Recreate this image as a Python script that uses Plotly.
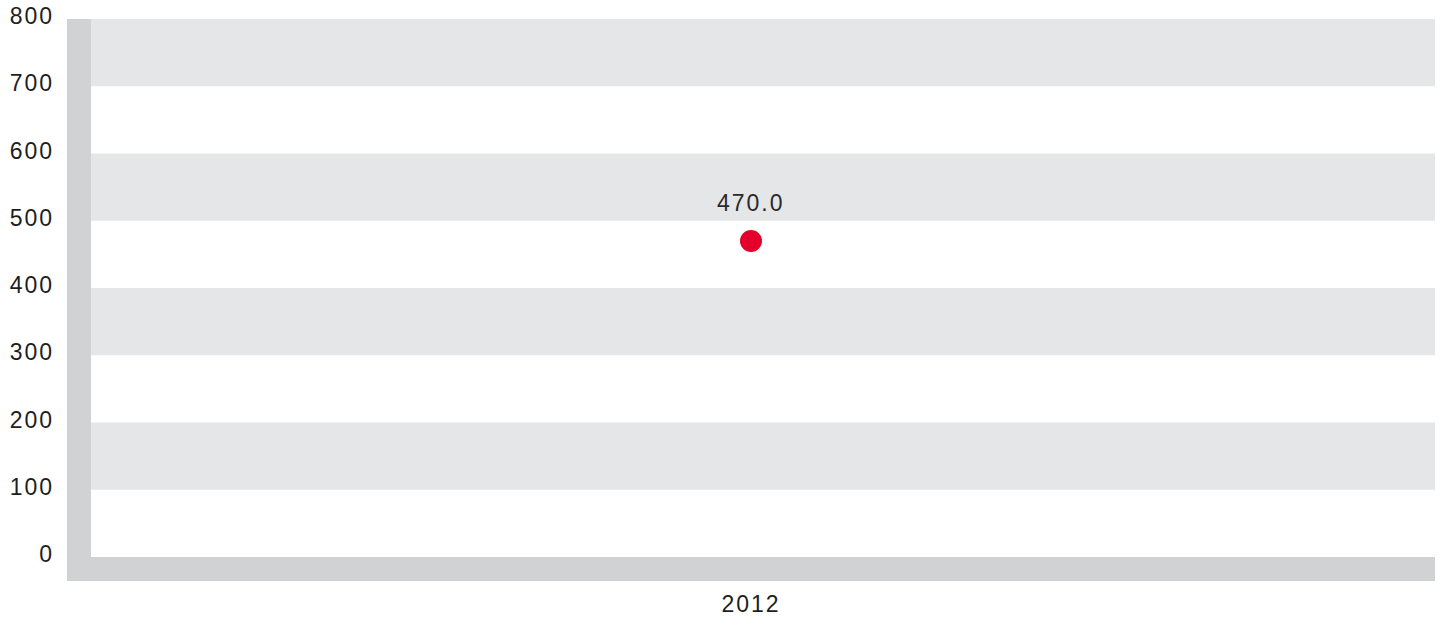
import plotly.graph_objects as go

# data
years = ["2012"]
values = [470.0]
y_ticks = [0, 100, 200, 300, 400, 500, 600, 700, 800]

BAND = "#e5e6e8"
AXIS_BAR = "#d1d2d4"
POINT = "#e4002b"
FONT = "Liberation Sans"

fig = go.Figure(
    go.Scatter(
        x=years,
        y=values,
        mode="markers",
        marker=dict(size=22, color=POINT),
        hoverinfo="x+y",
        cliponaxis=False,
    )
)

# alternating bands: shaded between every other pair of ticks (from the top)
shapes = []
for lo, hi in zip(y_ticks[:-1], y_ticks[1:]):
    if (hi // 100) % 2 == 0:
        shapes.append(dict(type="rect", xref="paper", yref="y", x0=0, x1=1,
                           y0=lo, y1=hi, fillcolor=BAND, line_width=0, layer="below"))

# thick grey axis bars (left and bottom)
bar_px = 24
plot_w = 1441 - 67 - 6
plot_h = 626 - 19 - 69
shapes.append(dict(type="rect", xref="paper", yref="paper", x0=0, x1=bar_px / plot_w,
                   y0=-bar_px / plot_h, y1=1, fillcolor=AXIS_BAR, line_width=0))
shapes.append(dict(type="rect", xref="paper", yref="paper", x0=0, x1=1,
                   y0=-bar_px / plot_h, y1=0, fillcolor=AXIS_BAR, line_width=0))

# value labels above the points (category index used as x position)
annotations = [
    dict(x=i, y=v, xref="x", yref="y", text=f"{v:.1f}", showarrow=False, yshift=38,
         font=dict(family=FONT, size=23, color="#2a2a2a"))
    for i, v in enumerate(values)
]

fig.update_layout(
    width=1441,
    height=626,
    margin=dict(l=67, r=6, t=19, b=69, autoexpand=False),
    paper_bgcolor="white",
    plot_bgcolor="white",
    showlegend=False,
    shapes=shapes,
    annotations=annotations,
    font=dict(family=FONT, size=23, color="#1e1e1e"),
    xaxis=dict(
        type="category",
        range=[-0.5, 0.5],
        showgrid=False,
        zeroline=False,
        showline=False,
        ticks="",
        ticklabelstandoff=31,
    ),
    yaxis=dict(
        range=[0, 800],
        tickvals=y_ticks,
        showgrid=False,
        zeroline=False,
        showline=False,
        ticks="",
        ticklabelstandoff=12,
        ticklabelshift=-3,
    ),
)

spacing_js = """
document.body.style.margin = '0';
document.querySelectorAll('.xtick text, .ytick text, .annotation-text').forEach(function (t) {
    t.style.letterSpacing = '2px';
});
"""

fig.write_html("out.html", post_script=spacing_js, config={"displayModeBar": False})
